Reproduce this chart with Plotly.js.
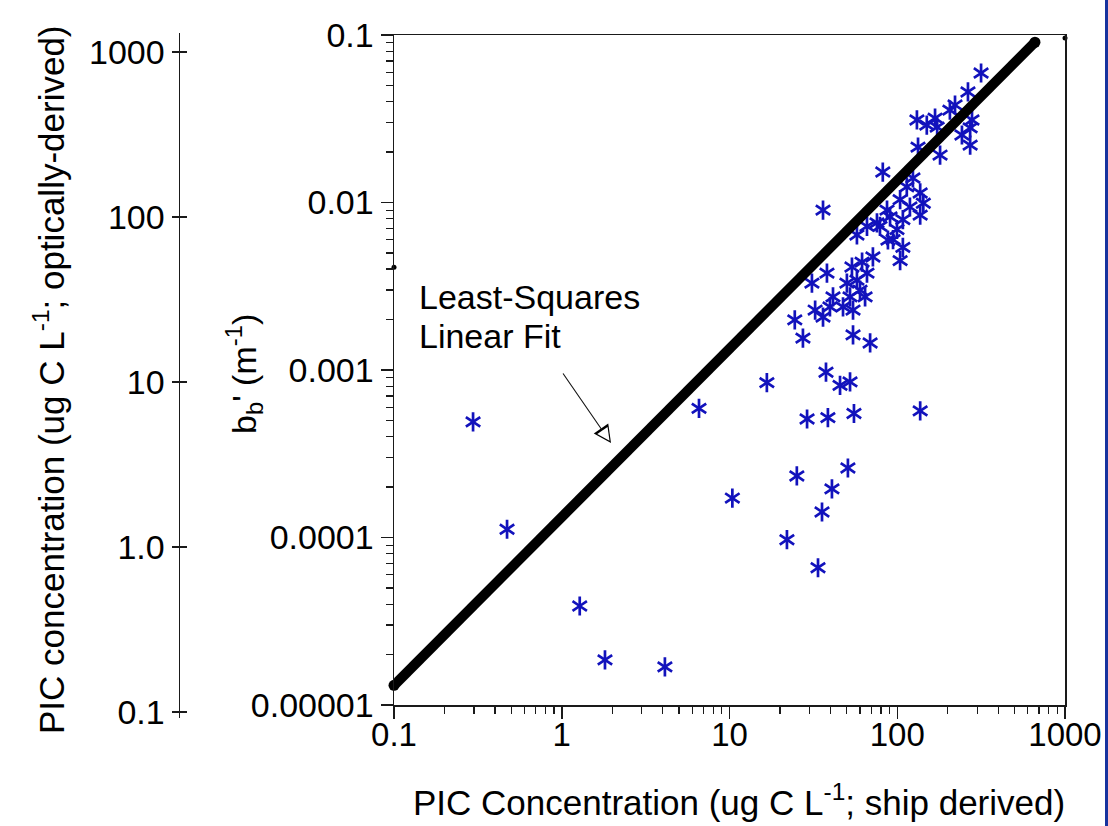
<!DOCTYPE html>
<html>
<head>
<meta charset="utf-8">
<script src="https://cdn.plot.ly/plotly-3.0.1.min.js"></script>
<style>
  html, body { margin: 0; padding: 0; background: #ffffff; }
  #chart { width: 1108px; height: 826px; }
</style>
</head>
<body>
<div id="chart"></div>
<script>
// ---- data ----
// PIC concentration, ship derived (ug C / L)
var picShip = [
  0.296, 0.472, 1.28, 1.81, 4.12, 6.58, 10.4, 16.7, 22, 25.2,
  29, 33.7, 35.6, 37.6, 38.6, 40.8, 45.6, 52.3, 50.8, 55.2, 137,
  27.4, 54.5, 68.9, 24.5, 36.1, 32.4, 39.7, 47.5, 54.5, 41.4,
  52.3, 64.3, 60, 50.1, 31, 57.5, 38.1, 66, 53.7, 61.7,
  71.6, 57.5, 36.1, 75.7, 86.9, 88,
  316, 264, 221, 206, 279, 272, 243, 272, 131, 150,
  168, 173, 133, 180, 82, 124, 114, 137, 104, 143,
  119, 90.6, 108, 137, 78.9, 99.6, 66, 94.4, 108, 104
];
// b_b' (1/m)
var bbPrime = [
  4.9e-4, 1.12e-4, 3.9e-5, 1.86e-5, 1.69e-5, 5.9e-4, 1.72e-4, 8.4e-4, 9.7e-5, 2.33e-4,
  5.1e-4, 6.6e-5, 1.42e-4, 9.7e-4, 5.2e-4, 1.95e-4, 8.1e-4, 8.5e-4, 2.6e-4, 5.5e-4, 5.7e-4,
  1.55e-3, 1.62e-3, 1.45e-3, 1.99e-3, 2.07e-3, 2.28e-3, 2.38e-3, 2.38e-3, 2.28e-3, 2.73e-3,
  2.73e-3, 2.73e-3, 3.0e-3, 3.3e-3, 3.3e-3, 3.44e-3, 3.79e-3, 3.79e-3, 4.12e-3, 4.41e-3,
  4.73e-3, 6.4e-3, 9.0e-3, 7.55e-3, 9.0e-3, 5.97e-3,
  0.0593, 0.0457, 0.0382, 0.0356, 0.0311, 0.0279, 0.0253, 0.0220, 0.0311, 0.0290,
  0.0319, 0.0282, 0.0214, 0.0192, 0.0152, 0.0140, 0.0124, 0.0114, 0.0104, 0.0099,
  0.0094, 0.0082, 0.0079, 0.0084, 0.0072, 0.0069, 0.0072, 0.0060, 0.0054, 0.0045
];
// least-squares linear fit, end points
var fitX = [0.1, 662];
var fitY = [1.31e-5, 0.0905];
// small black marks lying on the frame
var edgeX = [439, 1000, 0.1, 37.6];
var edgeY = [0.1, 0.096, 0.0041, 9.5e-6];

// tick labels
var xTickVals = [0.1, 1, 10, 100, 1000];
var xTickText = ['0.1', '1', '10', '100', '1000'];
var yTickVals = [0.00001, 0.0001, 0.001, 0.01, 0.1];
var yTickText = ['0.00001', '0.0001', '0.001', '0.01', '0.1'];
var y2TickVals = [0.1, 1, 10, 100, 1000];
var y2TickText = ['0.1', '1.0', '10', '100', '1000'];

// ---- layout helpers (pixel -> paper) ----
var W = 1108, H = 826, MT = 33, MB = 108;
var PH = H - MT - MB;
function px(x) { return x / W; }
function py(y) { return (H - MB - y) / PH; }

var FONT = 'Liberation Sans, Arial, Helvetica, sans-serif';
var BLUE = '#1212bc';
var LINEC = '#1a1a1a';

var traces = [
  { x: picShip, y: bbPrime, type: 'scatter', mode: 'markers', xaxis: 'x', yaxis: 'y',
    marker: { symbol: 'y-up-open', size: 12, color: BLUE, line: { color: BLUE, width: 2.7 } },
    hoverinfo: 'skip', showlegend: false },
  { x: picShip, y: bbPrime, type: 'scatter', mode: 'markers', xaxis: 'x', yaxis: 'y',
    marker: { symbol: 'y-down-open', size: 12, color: BLUE, line: { color: BLUE, width: 2.7 } },
    hoverinfo: 'skip', showlegend: false },
  { x: fitX, y: fitY, type: 'scatter', mode: 'lines+markers', xaxis: 'x', yaxis: 'y',
    line: { color: '#000000', width: 10 }, marker: { color: '#000000', size: 11 },
    cliponaxis: false, hoverinfo: 'skip', showlegend: false },
  { x: edgeX, y: edgeY, type: 'scatter', mode: 'markers', xaxis: 'x', yaxis: 'y',
    marker: { color: '#000000', size: 5 }, cliponaxis: false, hoverinfo: 'skip', showlegend: false },
  { x: [], y: [], type: 'scatter', mode: 'markers', xaxis: 'x2', yaxis: 'y2', showlegend: false, hoverinfo: 'skip' },
  { x: [], y: [], type: 'scatter', mode: 'markers', xaxis: 'x2', yaxis: 'y3', showlegend: false, hoverinfo: 'skip' }
];

var axisCommon = {
  type: 'log', showgrid: false, zeroline: false,
  showline: true, linecolor: LINEC, linewidth: 1.5,
  ticks: 'outside', ticklen: 12, tickwidth: 1.5, tickcolor: LINEC,
  tickmode: 'array',
  tickfont: { family: FONT, size: 34, color: '#000000' },
  minor: { ticks: 'outside', ticklen: 7, tickwidth: 1.3, tickcolor: LINEC, dtick: 'D1', showgrid: false }
};

var layout = {
  width: W, height: H,
  margin: { l: 0, r: 0, t: MT, b: MB, pad: 0 },
  paper_bgcolor: '#ffffff', plot_bgcolor: '#ffffff',
  showlegend: false,
  font: { family: FONT, color: '#000000' },
  xaxis: Object.assign({}, axisCommon, {
    domain: [px(394), px(1065)], anchor: 'y', range: [-1, 3], mirror: true,
    tickvals: xTickVals, ticktext: xTickText, ticklabelstandoff: -12,
    tickfont: { family: FONT, size: 33, color: '#000000' }
  }),
  yaxis: Object.assign({}, axisCommon, {
    domain: [py(705), py(35)], anchor: 'x', range: [-5, -1], mirror: true,
    tickvals: yTickVals, ticktext: yTickText
  }),
  xaxis2: { domain: [px(180), px(300)], anchor: 'y2', visible: false, range: [0, 1] },
  yaxis2: {
    type: 'log', domain: [0, 1], anchor: 'x2', range: [-1.0364, 3.1152],
    showgrid: false, zeroline: false, showline: true, linecolor: LINEC, linewidth: 1.5,
    ticks: 'outside', ticklen: 7, tickwidth: 1.5, tickcolor: LINEC,
    tickmode: 'array', tickvals: y2TickVals, ticktext: y2TickText,
    tickfont: { family: FONT, size: 34, color: '#000000' }
  },
  yaxis3: {
    type: 'log', overlaying: 'y2', anchor: 'x2', range: [-1.0364, 3.1152],
    showgrid: false, zeroline: false, showline: false,
    ticks: 'inside', ticklen: 7, tickwidth: 1.5, tickcolor: LINEC,
    tickmode: 'array', tickvals: y2TickVals, showticklabels: false
  },
  shapes: [
    { type: 'rect', xref: 'paper', yref: 'paper', x0: px(1105), x1: 1,
      y0: -MB / PH - 0.01, y1: 1 + MT / PH + 0.01, fillcolor: '#17339e', line: { width: 0 }, layer: 'above' }
  ],
  annotations: [
    { xref: 'paper', yref: 'paper', x: px(49), y: py(380), textangle: -90,
      xanchor: 'center', yanchor: 'middle', showarrow: false,
      text: 'PIC concentration (ug C L<sup>-1</sup>; optically-derived)',
      font: { family: FONT, size: 35, color: '#000000' } },
    { xref: 'paper', yref: 'paper', x: px(244), y: py(374), textangle: -90,
      xanchor: 'center', yanchor: 'middle', showarrow: false,
      text: 'b<sub>b</sub>\' (m<sup>-1</sup>)',
      font: { family: FONT, size: 34, color: '#000000' } },
    { xref: 'paper', yref: 'paper', x: px(739), y: py(800),
      xanchor: 'center', yanchor: 'middle', showarrow: false,
      text: 'PIC Concentration (ug C L<sup>-1</sup>; ship derived)',
      font: { family: FONT, size: 35, color: '#000000' } },
    { xref: 'paper', yref: 'paper', x: px(418), y: py(297),
      xanchor: 'left', yanchor: 'middle', showarrow: false, borderpad: 0,
      text: 'Least-Squares', font: { family: FONT, size: 34, color: '#000000' } },
    { xref: 'paper', yref: 'paper', x: px(418), y: py(336),
      xanchor: 'left', yanchor: 'middle', showarrow: false, borderpad: 0,
      text: 'Linear Fit', font: { family: FONT, size: 34, color: '#000000' } },
    // arrow: black head, then a smaller white head inside it to make it look hollow
    { xref: 'paper', yref: 'paper', x: px(611), y: py(443), ax: -49, ay: -71,
      text: '', showarrow: true, arrowhead: 2, arrowsize: 3.2, arrowwidth: 1.1, arrowcolor: '#000000' },
    { xref: 'paper', yref: 'paper', x: px(611), y: py(443), ax: -49, ay: -71,
      text: '', showarrow: true, arrowhead: 2, arrowsize: 25, arrowwidth: 0.1, standoff: 2.6,
      arrowcolor: '#ffffff' }
  ]
};

Plotly.newPlot('chart', traces, layout, { staticPlot: true, displayModeBar: false });
</script>
</body>
</html>
